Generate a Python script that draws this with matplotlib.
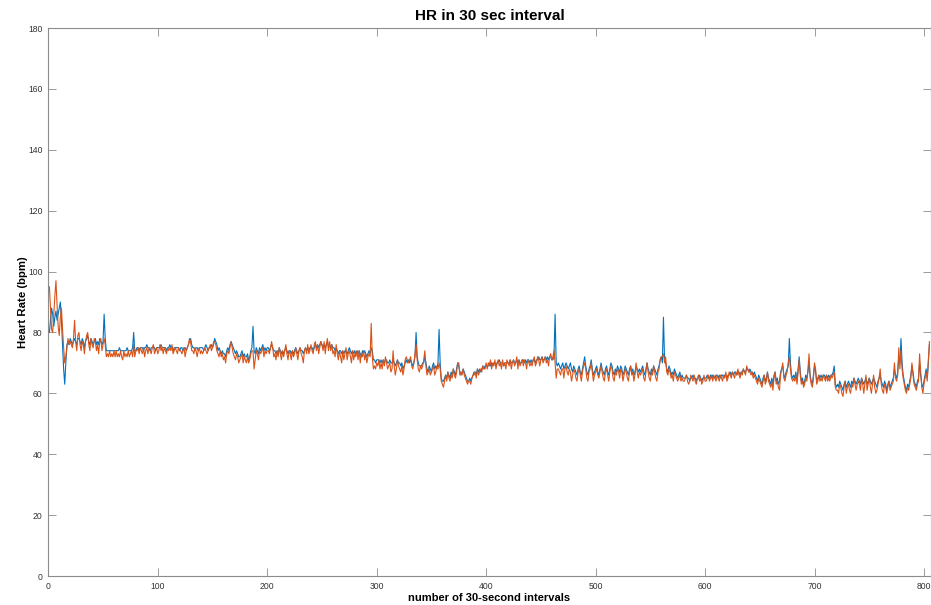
import matplotlib
matplotlib.use("Agg")
import matplotlib.pyplot as plt
import numpy as np

# Heart rate per 30-second interval (two estimates), interval index 1..805
hr_blue = [
    80,84,88,86,82,85,87,84,86,88,90,84,76,68,63,70,76,77,76,78,
    77,76,77,78,77,76,78,78,77,76,78,77,75,77,78,79,77,76,78,77,
    76,77,78,76,77,76,78,77,76,77,86,78,74,74,74,74,74,74,74,74,
    74,74,74,74,75,74,74,74,74,74,74,75,74,74,74,74,75,80,74,74,
    75,75,74,75,75,75,74,75,75,76,75,75,74,75,75,75,75,74,75,75,
    75,75,76,75,75,75,75,74,75,75,76,75,75,74,75,75,75,75,75,74,
    75,75,74,75,75,74,75,76,77,78,76,75,75,74,75,75,74,75,75,75,
    75,74,75,76,75,74,75,75,76,75,76,78,77,76,74,75,74,73,74,73,
    73,72,74,75,74,76,77,76,75,74,73,74,73,72,72,73,74,72,73,72,
    72,73,71,72,74,75,82,74,73,75,74,73,75,74,75,76,74,75,74,75,
    75,74,75,76,75,74,74,73,74,73,75,74,73,74,73,74,75,74,73,74,
    74,73,74,73,74,75,74,73,74,75,74,74,73,74,75,74,75,74,75,75,
    75,74,75,76,75,76,75,76,77,76,75,76,75,76,77,75,76,75,76,75,
    75,74,75,74,73,74,74,73,74,73,74,74,73,74,75,74,73,74,73,74,
    73,74,73,74,73,72,74,73,74,73,72,73,74,73,75,74,71,71,70,71,
    71,71,70,71,70,71,70,71,71,70,70,71,70,70,71,70,69,70,71,70,
    70,69,70,68,69,70,71,70,71,70,71,70,69,70,72,80,72,70,69,69,
    69,70,70,72,70,68,67,69,68,67,69,70,68,69,68,70,81,70,65,64,
    64,65,66,65,67,66,65,67,66,68,67,66,68,70,69,67,66,67,68,67,
    66,65,64,64,65,64,65,66,67,67,66,68,67,68,67,68,69,68,69,69,
    69,69,70,69,70,69,70,70,69,70,70,71,70,70,70,69,70,70,70,70,
    70,71,70,70,71,70,70,71,70,71,70,70,71,71,70,71,70,71,71,70,
    71,70,71,71,70,71,71,72,71,71,72,71,71,72,71,72,71,72,72,71,
    71,72,86,70,69,70,69,68,69,70,68,69,70,69,68,69,70,68,67,69,
    68,67,66,68,69,67,66,68,70,72,69,67,66,68,69,71,68,66,67,68,
    69,67,66,68,70,68,67,66,68,69,67,66,68,70,69,67,66,68,67,69,
    68,67,69,68,66,67,69,68,67,66,68,69,67,68,66,67,69,68,67,68,
    67,68,69,67,66,68,70,68,67,66,68,67,69,68,67,66,68,69,71,72,
    70,85,71,70,68,67,69,68,66,67,66,68,67,66,65,66,67,65,66,65,
    65,65,66,65,65,64,65,65,66,65,65,64,65,65,66,65,64,65,65,65,
    65,66,65,65,66,65,66,65,65,66,66,65,66,65,66,66,65,66,66,65,
    66,66,67,66,67,66,67,67,66,67,67,66,67,67,68,67,67,68,68,67,
    68,67,67,66,67,66,65,64,66,65,64,63,65,66,64,65,67,65,64,63,
    65,63,66,67,64,65,63,64,67,68,69,66,65,67,68,69,78,70,66,65,
    66,65,67,64,68,72,67,64,65,63,64,66,65,67,70,66,64,63,66,69,
    67,64,65,66,65,66,65,66,66,65,66,65,66,65,66,66,67,69,63,62,
    63,62,64,63,62,61,63,64,62,63,64,63,62,64,63,65,64,63,64,65,
    64,63,65,64,63,64,65,63,64,65,64,63,64,65,64,63,62,64,65,66,
    64,63,62,64,63,61,63,64,62,63,64,65,68,66,65,67,72,70,78,70,
    66,64,62,61,63,62,64,66,69,67,64,63,62,64,65,70,66,63,62,64,
    66,68,65,70,76,
]

hr_orange = [
    95,88,81,80,86,92,97,89,82,79,85,88,81,75,70,72,75,78,76,77,
    76,75,78,84,77,74,79,80,76,74,77,76,73,77,79,80,76,74,78,76,
    75,78,77,74,76,73,77,78,74,76,78,76,72,73,72,74,72,73,72,74,
    72,74,72,73,72,74,72,71,74,72,73,72,74,72,73,74,72,76,72,74,
    74,75,73,75,74,73,75,72,74,75,73,75,74,73,75,76,73,74,75,73,
    74,76,74,75,73,75,74,73,75,74,75,74,76,73,74,75,74,73,75,74,
    74,73,74,75,72,74,75,76,78,77,74,74,73,75,74,72,74,75,73,74,
    73,74,75,74,73,74,75,76,74,75,77,77,76,74,73,72,74,72,73,71,
    72,70,73,74,73,75,77,75,73,72,71,73,72,70,71,72,73,70,72,71,
    70,72,70,71,73,74,74,68,71,74,73,71,74,73,74,75,72,74,73,74,
    74,73,75,77,75,72,73,71,74,72,75,73,71,74,72,74,76,73,71,74,
    73,71,74,72,73,75,73,71,74,75,73,72,70,74,75,73,76,73,74,76,
    74,73,76,77,74,76,73,75,77,76,74,77,73,76,78,74,77,74,76,73,
    74,72,76,73,71,74,72,70,74,71,73,75,71,73,74,72,70,74,71,73,
    72,74,71,74,70,73,72,74,71,73,70,72,73,72,83,72,68,69,68,70,
    69,71,68,70,68,71,69,72,70,68,69,70,67,68,74,69,66,68,71,69,
    68,67,69,66,68,71,72,71,70,71,72,69,68,70,73,76,71,68,67,69,
    68,69,71,74,69,66,67,68,66,67,68,69,66,67,69,68,70,68,64,63,
    62,64,66,64,67,65,64,66,65,68,66,65,67,70,70,66,67,66,68,66,
    65,64,63,64,64,63,65,66,66,67,65,68,66,67,68,67,69,68,68,70,
    68,70,69,71,68,70,69,71,68,70,71,69,70,68,71,69,70,68,71,70,
    69,71,68,70,71,69,70,72,68,71,69,70,71,69,71,70,68,71,70,69,
    70,69,71,72,69,70,72,71,69,71,72,70,71,72,70,71,69,72,73,71,
    72,74,70,65,68,68,67,66,68,68,65,68,69,67,66,68,67,64,66,68,
    67,65,64,67,68,66,64,67,69,70,68,65,64,67,68,70,67,64,66,67,
    68,66,65,67,69,67,65,64,67,68,66,64,67,69,68,65,64,67,66,68,
    67,65,68,67,64,66,68,67,65,64,67,69,66,67,64,66,70,67,65,67,
    66,67,68,65,64,67,70,67,65,64,67,66,69,67,65,64,67,68,71,72,
    72,73,70,72,67,66,68,67,65,66,64,67,66,65,64,65,66,64,65,64,
    64,65,66,64,63,64,66,65,64,66,64,63,65,66,64,65,63,64,66,64,
    64,65,66,64,65,66,64,66,65,64,66,65,64,66,65,64,66,65,67,64,
    65,67,66,65,67,66,65,67,66,68,66,65,67,66,68,67,66,69,68,67,
    67,66,67,65,66,65,64,63,65,64,63,62,64,66,63,64,67,64,63,62,
    64,61,65,67,63,64,62,61,66,68,70,65,64,66,67,70,72,68,65,64,
    65,64,66,63,67,71,66,63,64,62,63,65,64,68,73,65,63,62,65,70,
    68,63,64,66,64,65,64,66,65,64,66,64,65,64,66,65,66,67,62,61,
    61,60,63,62,60,59,62,64,60,62,63,61,60,63,62,65,63,61,63,64,
    63,61,65,63,60,63,66,61,63,65,62,60,63,66,62,60,61,63,65,68,
    63,61,60,63,62,60,62,64,61,62,63,64,70,65,64,66,75,68,74,68,
    65,63,61,60,62,61,63,65,70,66,63,62,61,63,64,73,67,62,60,63,
    65,67,64,71,77,
]

x_ticks = [0, 100, 200, 300, 400, 500, 600, 700, 800]
y_ticks = [0, 20, 40, 60, 80, 100, 120, 140, 160, 180]

title_text = "HR in 30 sec interval"
x_label = "number of 30-second intervals"
y_label = "Heart Rate (bpm)"

plt.rcParams['font.family'] = ['Liberation Sans', 'DejaVu Sans']

fig = plt.figure(figsize=(9.31, 6.05), dpi=100)
ax = fig.add_axes([48.3 / 931, 29 / 605, (931 - 48.3) / 931 - 0.0005, (576 - 28) / 605])

idx = np.arange(1, len(hr_blue) + 1)
ax.plot(idx, hr_blue, color='#0072BD', lw=0.8)
ax.plot(np.arange(1, len(hr_orange) + 1), hr_orange, color='#D95319', lw=0.8)

ax.set_xlim(0, 806)
ax.set_ylim(0, 180)
ax.set_xticks(x_ticks)
ax.set_yticks(y_ticks)

for s in ax.spines.values():
    s.set_color('#8c8c8c')
    s.set_linewidth(0.8)

ax.tick_params(direction='in', length=5.5, width=0.6, color='#8c8c8c',
               labelsize=6.2, labelcolor='#333333', top=True, right=True, pad=4)

ax.set_title(title_text, fontsize=11, fontweight='bold', pad=6)
ax.set_xlabel(x_label, fontsize=8.0, fontweight='bold', labelpad=2)
ax.set_ylabel(y_label, fontsize=8.2, fontweight='bold', labelpad=0)

fig.savefig("out.png", dpi=100)
